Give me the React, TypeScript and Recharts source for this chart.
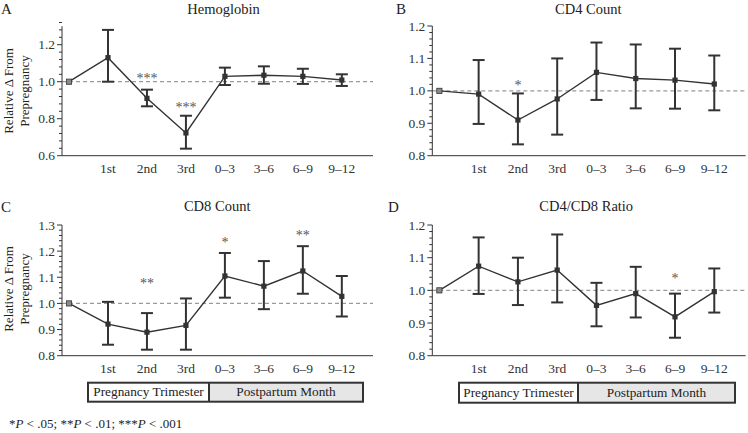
import React from "react";
import { ComposedChart, Line, XAxis, YAxis, ReferenceLine, ErrorBar } from "recharts";

// ---------- data ----------
const categories = ["Prepregnancy", "1st", "2nd", "3rd", "0–3", "3–6", "6–9", "9–12"];
const xTickLabels = ["1st", "2nd", "3rd", "0–3", "3–6", "6–9", "9–12"];
const xTickValues = [1, 2, 3, 4, 5, 6, 7];

const hgbMean = [1.0, 1.13, 0.91, 0.723, 1.029, 1.035, 1.029, 1.009];
const hgbLow = [null, 1.0, 0.867, 0.638, 0.982, 0.989, 0.988, 0.977];
const hgbHigh = [null, 1.28, 0.957, 0.816, 1.076, 1.083, 1.07, 1.04];
const hgbSig = ["", "", "***", "***", "", "", "", ""];
const hgbSigY = [null, null, 1.031, 0.879, null, null, null, null];

const cd4Mean = [1.0, 0.99, 0.91, 0.975, 1.057, 1.038, 1.033, 1.021];
const cd4Low = [null, 0.898, 0.835, 0.865, 0.972, 0.946, 0.945, 0.94];
const cd4High = [null, 1.095, 0.992, 1.1, 1.149, 1.143, 1.13, 1.109];
const cd4Sig = ["", "", "*", "", "", "", "", ""];
const cd4SigY = [null, null, 1.025, null, null, null, null, null];

const cd8Mean = [1.0, 0.921, 0.89, 0.916, 1.105, 1.066, 1.124, 1.027];
const cd8Low = [null, 0.842, 0.823, 0.823, 1.022, 0.978, 1.037, 0.95];
const cd8High = [null, 1.006, 0.963, 1.019, 1.193, 1.162, 1.219, 1.105];
const cd8Sig = ["", "", "**", "", "*", "", "**", ""];
const cd8SigY = [null, null, 1.089, null, 1.246, null, 1.273, null];

const ratioMean = [1.0, 1.074, 1.026, 1.062, 0.954, 0.99, 0.919, 0.996];
const ratioLow = [null, 0.989, 0.955, 0.963, 0.89, 0.917, 0.855, 0.932];
const ratioHigh = [null, 1.162, 1.1, 1.171, 1.023, 1.072, 0.99, 1.067];
const ratioSig = ["", "", "", "", "", "", "*", ""];
const ratioSigY = [null, null, null, null, null, null, 1.044, null];

const hgbMajorTicks = [0.6, 0.8, 1.0, 1.2];
const cd4MajorTicks = [0.8, 0.9, 1.0, 1.1, 1.2];
const cd8MajorTicks = [0.8, 0.9, 1.0, 1.1, 1.2, 1.3];
const ratioMajorTicks = [0.8, 0.9, 1.0, 1.1, 1.2];

const FONT =
  "Liberation Serif, Times New Roman, Tinos, Noto Serif, DejaVu Serif, FreeSerif, Nimbus Roman, Times, serif";
const INK = "#333";

function buildRows(mean: number[], low: (number | null)[], high: (number | null)[], sig: string[], sigY: (number | null)[]) {
  return mean.map((m, i) => ({
    x: i,
    category: categories[i],
    mean: m,
    err: low[i] == null ? null : [m - (low[i] as number), (high[i] as number) - m],
    sigY: sigY[i],
    sig: sig[i],
  }));
}

function makeTicks(min: number, max: number, step: number) {
  const out: number[] = [];
  const n = Math.round((max - min) / step);
  for (let i = 0; i <= n; i++) out.push(Math.round((min + i * step) * 1000) / 1000);
  return out;
}

const SquareDot = (props: any) => {
  const { cx, cy, index } = props;
  if (cx == null || cy == null) return <g key={`d${index}`} />;
  const first = index === 0;
  return (
    <rect
      key={`d${index}`}
      x={cx - 2.6}
      y={cy - 2.6}
      width={5.2}
      height={5.2}
      fill={first ? "#8a8a8a" : INK}
      stroke={INK}
      strokeWidth={first ? 0.8 : 0}
    />
  );
};

const makeStarDot = (rows: any[]) => (props: any) => {
  const { cx, cy, index } = props;
  const s = rows[index] ? rows[index].sig : "";
  if (!s || cx == null || cy == null || isNaN(cy)) return <g key={`s${index}`} />;
  return (
    <text
      key={`s${index}`}
      x={cx}
      y={cy + 7.5}
      textAnchor="middle"
      fontFamily={FONT}
      fontSize={14}
      fill="#555555"
      stroke="none"
    >
      {s}
    </text>
  );
};

const makeYTick = (majors: number[]) => (props: any) => {
  const { x, y, payload } = props;
  const v = payload.value as number;
  const isMajor = majors.some((m) => Math.abs(m - v) < 1e-6);
  return (
    <g>
      <line x1={x - (isMajor ? 5 : 3)} x2={x} y1={y} y2={y} stroke={INK} strokeWidth={1} />
      {isMajor && (
        <text x={x - 7} y={y} dy={4.5} textAnchor="end" fontFamily={FONT} fontSize={13.5} fill={INK}>
          {v.toFixed(1)}
        </text>
      )}
    </g>
  );
};

const XTick = (props: any) => {
  const { x, y, payload } = props;
  const idx = xTickValues.indexOf(payload.value);
  return (
    <text x={x} y={y + 17.5} textAnchor="middle" fontFamily={FONT} fontSize={13.5} fill={INK}>
      {xTickLabels[idx]}
    </text>
  );
};

type PanelProps = {
  left: number;
  top: number;
  rows: any[];
  domain: [number, number];
  majors: number[];
  minorStep: number;
  margin: { top: number; right: number; left: number; bottom: number };
};

const Panel = ({ left, top, rows, domain, majors, minorStep, margin }: PanelProps) => {
  const allTicks = makeTicks(domain[0], domain[1], minorStep);
  return (
    <div style={{ position: "absolute", left, top }}>
      <ComposedChart width={374} height={200} data={rows} margin={margin}>
        <XAxis
          type="number"
          dataKey="x"
          domain={[-0.18, 7.8]}
          ticks={xTickValues}
          interval={0}
          tickLine={false}
          tickSize={0}
          tickMargin={0}
          tick={XTick}
          height={30}
          axisLine={{ stroke: INK, strokeWidth: 1 }}
          allowDataOverflow
        />
        <YAxis
          type="number"
          domain={domain}
          ticks={allTicks}
          interval={0}
          tickLine={false}
          tickSize={0}
          tickMargin={0}
          tick={makeYTick(majors)}
          width={40}
          axisLine={{ stroke: INK, strokeWidth: 1 }}
          allowDataOverflow
        />
        <ReferenceLine y={1} stroke="#9a9a9a" strokeDasharray="4 3" strokeWidth={1.2} />
        <Line
          dataKey="mean"
          stroke={INK}
          strokeWidth={1.4}
          dot={SquareDot}
          activeDot={false}
          isAnimationActive={false}
        >
          <ErrorBar dataKey="err" direction="y" width={6} stroke={INK} strokeWidth={2} isAnimationActive={false} />
        </Line>
        <Line
          dataKey="sigY"
          stroke="none"
          dot={makeStarDot(rows)}
          activeDot={false}
          isAnimationActive={false}
        />
      </ComposedChart>
    </div>
  );
};

const LegendBox = ({ x0, x1, xd, y0, h }: { x0: number; x1: number; xd: number; y0: number; h: number }) => (
  <g>
    <rect x={x0} y={y0} width={xd - x0} height={h} fill="#fff" />
    <rect x={xd} y={y0} width={x1 - xd} height={h} fill="#e6e6e6" />
    <rect x={x0} y={y0} width={x1 - x0} height={h} fill="none" stroke={INK} strokeWidth={2} />
    <line x1={xd} x2={xd} y1={y0} y2={y0 + h} stroke={INK} strokeWidth={2} />
    <text x={(x0 + xd) / 2} y={y0 + h - 5.5} textAnchor="middle" fontFamily={FONT} fontSize={13.3} fill="#222">
      Pregnancy Trimester
    </text>
    <text x={(xd + x1) / 2} y={y0 + h - 5.5} textAnchor="middle" fontFamily={FONT} fontSize={13.3} fill="#222">
      Postpartum Month
    </text>
  </g>
);

const YLabel = ({ cy }: { cy: number }) => (
  <g fontFamily={FONT} fontSize={13} fill="#222">
    <text transform={`translate(13,${cy}) rotate(-90)`} textAnchor="middle">
      Relative Δ From
    </text>
    <text transform={`translate(28.5,${cy}) rotate(-90)`} textAnchor="middle">
      Prepregnancy
    </text>
  </g>
);

export default function App() {
  const hgbRows = buildRows(hgbMean, hgbLow, hgbHigh, hgbSig, hgbSigY);
  const cd4Rows = buildRows(cd4Mean, cd4Low, cd4High, cd4Sig, cd4SigY);
  const cd8Rows = buildRows(cd8Mean, cd8Low, cd8High, cd8Sig, cd8SigY);
  const ratioRows = buildRows(ratioMean, ratioLow, ratioHigh, ratioSig, ratioSigY);

  return (
    <div
      style={{
        position: "absolute",
        left: 0,
        top: 0,
        width: 748,
        height: 433,
        background: "#fff",
        overflow: "hidden",
        fontFamily: FONT,
      }}
    >
      <Panel
        left={0}
        top={0}
        rows={hgbRows}
        domain={[0.6, 1.3]}
        majors={hgbMajorTicks}
        minorStep={0.04}
        margin={{ top: 26.2, right: 1, left: 22, bottom: 14.3 }}
      />
      <Panel
        left={374}
        top={0}
        rows={cd4Rows}
        domain={[0.8, 1.2]}
        majors={cd4MajorTicks}
        minorStep={0.02}
        margin={{ top: 26, right: 2.3, left: 18.3, bottom: 14.3 }}
      />
      <Panel
        left={0}
        top={200}
        rows={cd8Rows}
        domain={[0.8, 1.3]}
        majors={cd8MajorTicks}
        minorStep={0.02}
        margin={{ top: 25, right: 1, left: 22, bottom: 14.3 }}
      />
      <Panel
        left={374}
        top={200}
        rows={ratioRows}
        domain={[0.8, 1.2]}
        majors={ratioMajorTicks}
        minorStep={0.02}
        margin={{ top: 25, right: 2.3, left: 18.3, bottom: 14.3 }}
      />
      <svg width={748} height={433} style={{ position: "absolute", left: 0, top: 0, pointerEvents: "none" }}>
        <g fontFamily={FONT} fill="#222">
          <text x={1} y={14} fontSize={15}>A</text>
          <text x={223.5} y={13.5} fontSize={14.5} textAnchor="middle">Hemoglobin</text>
          <text x={396} y={14} fontSize={15}>B</text>
          <text x={588.3} y={13.5} fontSize={14.5} textAnchor="middle">CD4 Count</text>
          <text x={1} y={212} fontSize={15}>C</text>
          <text x={217.2} y={211} fontSize={14.5} textAnchor="middle">CD8 Count</text>
          <text x={388} y={212} fontSize={15}>D</text>
          <text x={586.2} y={211} fontSize={14.5} textAnchor="middle">CD4/CD8 Ratio</text>
        </g>
        <YLabel cy={91} />
        <YLabel cy={289} />
        <LegendBox x0={88} x1={363} xd={209} y0={382.7} h={19} />
        <LegendBox x0={459} x1={735} xd={578} y0={382.7} h={20} />
        <text x={9} y={428} fontFamily={FONT} fontSize={13} fill="#222">
          *<tspan fontStyle="italic">P</tspan> &lt; .05; **<tspan fontStyle="italic">P</tspan> &lt; .01; ***
          <tspan fontStyle="italic">P</tspan> &lt; .001
        </text>
      </svg>
    </div>
  );
}
